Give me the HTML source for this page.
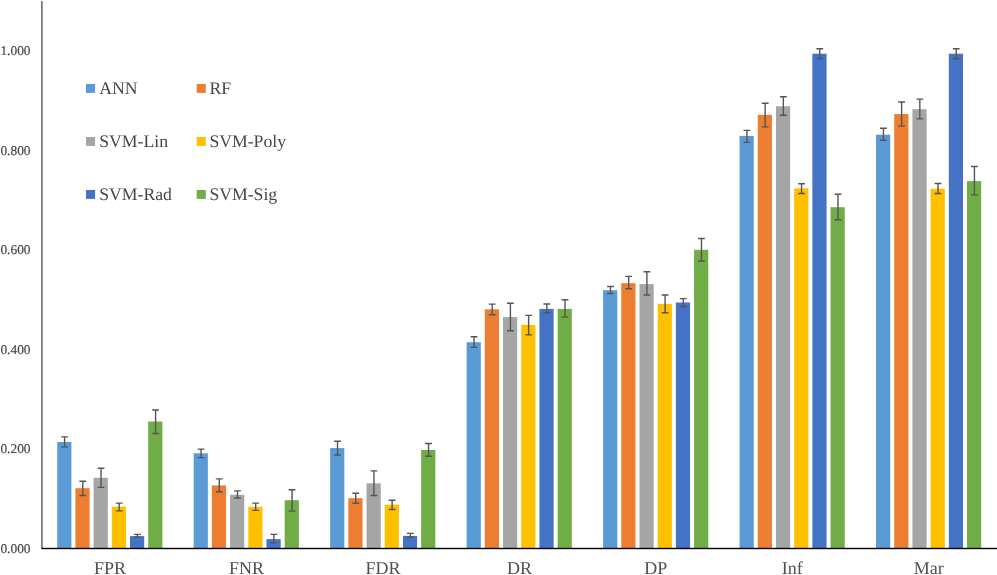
<!DOCTYPE html>
<html lang="en"><head><meta charset="utf-8"><title>Chart</title>
<style>
html,body{margin:0;padding:0;background:#fff;}
body{width:997px;height:575px;overflow:hidden;}
svg{display:block;}
text{text-rendering:geometricPrecision;font-family:"Liberation Serif","Times New Roman",serif;fill:#505050;}
.yl{font-size:13.4px;fill:#484848;stroke:#484848;stroke-width:0.2px;}
.xl{font-size:18px;text-anchor:middle;}
.lg{font-size:17.7px;fill:#464646;}
</style></head><body>
<svg width="997" height="575" viewBox="0 0 997 575">
<rect width="997" height="575" fill="#fff"/>
<rect x="57.20" y="442.00" width="14.20" height="106.20" fill="#5b9bd5"/>
<rect x="75.40" y="488.20" width="14.20" height="60.00" fill="#ed7d31"/>
<rect x="93.60" y="477.80" width="14.20" height="70.40" fill="#a5a5a5"/>
<rect x="111.80" y="506.70" width="14.20" height="41.50" fill="#ffc000"/>
<rect x="130.00" y="536.10" width="14.20" height="12.10" fill="#4472c4"/>
<rect x="148.20" y="421.50" width="14.20" height="126.70" fill="#70ad47"/>
<rect x="193.67" y="453.30" width="14.20" height="94.90" fill="#5b9bd5"/>
<rect x="211.87" y="485.40" width="14.20" height="62.80" fill="#ed7d31"/>
<rect x="230.07" y="494.80" width="14.20" height="53.40" fill="#a5a5a5"/>
<rect x="248.27" y="506.80" width="14.20" height="41.40" fill="#ffc000"/>
<rect x="266.47" y="539.10" width="14.20" height="9.10" fill="#4472c4"/>
<rect x="284.67" y="500.20" width="14.20" height="48.00" fill="#70ad47"/>
<rect x="330.14" y="448.10" width="14.20" height="100.10" fill="#5b9bd5"/>
<rect x="348.34" y="498.20" width="14.20" height="50.00" fill="#ed7d31"/>
<rect x="366.54" y="483.30" width="14.20" height="64.90" fill="#a5a5a5"/>
<rect x="384.74" y="504.60" width="14.20" height="43.60" fill="#ffc000"/>
<rect x="402.94" y="535.90" width="14.20" height="12.30" fill="#4472c4"/>
<rect x="421.14" y="450.00" width="14.20" height="98.20" fill="#70ad47"/>
<rect x="466.61" y="342.20" width="14.20" height="206.00" fill="#5b9bd5"/>
<rect x="484.81" y="309.30" width="14.20" height="238.90" fill="#ed7d31"/>
<rect x="503.01" y="317.10" width="14.20" height="231.10" fill="#a5a5a5"/>
<rect x="521.21" y="324.90" width="14.20" height="223.30" fill="#ffc000"/>
<rect x="539.41" y="308.90" width="14.20" height="239.30" fill="#4472c4"/>
<rect x="557.61" y="308.90" width="14.20" height="239.30" fill="#70ad47"/>
<rect x="603.08" y="290.20" width="14.20" height="258.00" fill="#5b9bd5"/>
<rect x="621.28" y="283.20" width="14.20" height="265.00" fill="#ed7d31"/>
<rect x="639.48" y="284.10" width="14.20" height="264.10" fill="#a5a5a5"/>
<rect x="657.68" y="303.90" width="14.20" height="244.30" fill="#ffc000"/>
<rect x="675.88" y="302.50" width="14.20" height="245.70" fill="#4472c4"/>
<rect x="694.08" y="249.80" width="14.20" height="298.40" fill="#70ad47"/>
<rect x="739.55" y="135.90" width="14.20" height="412.30" fill="#5b9bd5"/>
<rect x="757.75" y="114.80" width="14.20" height="433.40" fill="#ed7d31"/>
<rect x="775.95" y="106.30" width="14.20" height="441.90" fill="#a5a5a5"/>
<rect x="794.15" y="188.40" width="14.20" height="359.80" fill="#ffc000"/>
<rect x="812.35" y="53.70" width="14.20" height="494.50" fill="#4472c4"/>
<rect x="830.55" y="207.20" width="14.20" height="341.00" fill="#70ad47"/>
<rect x="876.02" y="134.70" width="14.20" height="413.50" fill="#5b9bd5"/>
<rect x="894.22" y="114.10" width="14.20" height="434.10" fill="#ed7d31"/>
<rect x="912.42" y="109.20" width="14.20" height="439.00" fill="#a5a5a5"/>
<rect x="930.62" y="188.70" width="14.20" height="359.50" fill="#ffc000"/>
<rect x="948.82" y="53.70" width="14.20" height="494.50" fill="#4472c4"/>
<rect x="967.02" y="181.10" width="14.20" height="367.10" fill="#70ad47"/>
<rect x="41" y="1" width="1.8" height="547.5" fill="#7d7d7d"/>
<rect x="41.5" y="547.8" width="955.5" height="1.4" fill="#000"/>
<path d="M61.20 436.90H68.00M61.20 446.90H68.00M64.60 436.90V446.90" stroke="#555555" stroke-width="1.40" fill="none"/>
<path d="M79.40 481.20H86.20M79.40 495.50H86.20M82.80 481.20V495.50" stroke="#555555" stroke-width="1.40" fill="none"/>
<path d="M97.60 468.30H104.40M97.60 487.40H104.40M101.00 468.30V487.40" stroke="#555555" stroke-width="1.40" fill="none"/>
<path d="M115.80 503.10H122.60M115.80 510.90H122.60M119.20 503.10V510.90" stroke="#555555" stroke-width="1.40" fill="none"/>
<path d="M134.00 534.40H140.80M134.00 537.10H140.80M137.40 534.40V537.10" stroke="#555555" stroke-width="1.40" fill="none"/>
<path d="M152.20 410.00H159.00M152.20 433.50H159.00M155.60 410.00V433.50" stroke="#555555" stroke-width="1.40" fill="none"/>
<path d="M197.67 449.10H204.47M197.67 457.60H204.47M201.07 449.10V457.60" stroke="#555555" stroke-width="1.40" fill="none"/>
<path d="M215.87 478.90H222.67M215.87 491.80H222.67M219.27 478.90V491.80" stroke="#555555" stroke-width="1.40" fill="none"/>
<path d="M234.07 490.90H240.87M234.07 498.00H240.87M237.47 490.90V498.00" stroke="#555555" stroke-width="1.40" fill="none"/>
<path d="M252.27 503.10H259.07M252.27 510.40H259.07M255.67 503.10V510.40" stroke="#555555" stroke-width="1.40" fill="none"/>
<path d="M270.47 534.40H277.27M270.47 542.90H277.27M273.87 534.40V542.90" stroke="#555555" stroke-width="1.40" fill="none"/>
<path d="M288.67 489.70H295.47M288.67 511.10H295.47M292.07 489.70V511.10" stroke="#555555" stroke-width="1.40" fill="none"/>
<path d="M334.14 441.30H340.94M334.14 455.00H340.94M337.54 441.30V455.00" stroke="#555555" stroke-width="1.40" fill="none"/>
<path d="M352.34 493.20H359.14M352.34 503.30H359.14M355.74 493.20V503.30" stroke="#555555" stroke-width="1.40" fill="none"/>
<path d="M370.54 470.90H377.34M370.54 495.50H377.34M373.94 470.90V495.50" stroke="#555555" stroke-width="1.40" fill="none"/>
<path d="M388.74 500.20H395.54M388.74 509.50H395.54M392.14 500.20V509.50" stroke="#555555" stroke-width="1.40" fill="none"/>
<path d="M406.94 533.40H413.74M406.94 537.20H413.74M410.34 533.40V537.20" stroke="#555555" stroke-width="1.40" fill="none"/>
<path d="M425.14 443.50H431.94M425.14 456.30H431.94M428.54 443.50V456.30" stroke="#555555" stroke-width="1.40" fill="none"/>
<path d="M470.61 336.70H477.41M470.61 347.40H477.41M474.01 336.70V347.40" stroke="#555555" stroke-width="1.40" fill="none"/>
<path d="M488.81 304.10H495.61M488.81 314.80H495.61M492.21 304.10V314.80" stroke="#555555" stroke-width="1.40" fill="none"/>
<path d="M507.01 303.30H513.81M507.01 330.70H513.81M510.41 303.30V330.70" stroke="#555555" stroke-width="1.40" fill="none"/>
<path d="M525.21 315.40H532.01M525.21 334.90H532.01M528.61 315.40V334.90" stroke="#555555" stroke-width="1.40" fill="none"/>
<path d="M543.41 304.00H550.21M543.41 312.80H550.21M546.81 304.00V312.80" stroke="#555555" stroke-width="1.40" fill="none"/>
<path d="M561.61 299.80H568.41M561.61 317.10H568.41M565.01 299.80V317.10" stroke="#555555" stroke-width="1.40" fill="none"/>
<path d="M607.08 286.50H613.88M607.08 293.50H613.88M610.48 286.50V293.50" stroke="#555555" stroke-width="1.40" fill="none"/>
<path d="M625.28 276.40H632.08M625.28 288.70H632.08M628.68 276.40V288.70" stroke="#555555" stroke-width="1.40" fill="none"/>
<path d="M643.48 271.70H650.28M643.48 295.00H650.28M646.88 271.70V295.00" stroke="#555555" stroke-width="1.40" fill="none"/>
<path d="M661.68 295.00H668.48M661.68 312.80H668.48M665.08 295.00V312.80" stroke="#555555" stroke-width="1.40" fill="none"/>
<path d="M679.88 298.60H686.68M679.88 306.50H686.68M683.28 298.60V306.50" stroke="#555555" stroke-width="1.40" fill="none"/>
<path d="M698.08 238.50H704.88M698.08 261.00H704.88M701.48 238.50V261.00" stroke="#555555" stroke-width="1.40" fill="none"/>
<path d="M743.55 130.40H750.35M743.55 142.40H750.35M746.95 130.40V142.40" stroke="#555555" stroke-width="1.40" fill="none"/>
<path d="M761.75 103.30H768.55M761.75 126.90H768.55M765.15 103.30V126.90" stroke="#555555" stroke-width="1.40" fill="none"/>
<path d="M779.95 96.80H786.75M779.95 115.20H786.75M783.35 96.80V115.20" stroke="#555555" stroke-width="1.40" fill="none"/>
<path d="M798.15 183.70H804.95M798.15 193.50H804.95M801.55 183.70V193.50" stroke="#555555" stroke-width="1.40" fill="none"/>
<path d="M816.35 48.70H823.15M816.35 58.60H823.15M819.75 48.70V58.60" stroke="#555555" stroke-width="1.40" fill="none"/>
<path d="M834.55 194.30H841.35M834.55 219.70H841.35M837.95 194.30V219.70" stroke="#555555" stroke-width="1.40" fill="none"/>
<path d="M880.02 128.20H886.82M880.02 140.20H886.82M883.42 128.20V140.20" stroke="#555555" stroke-width="1.40" fill="none"/>
<path d="M898.22 102.00H905.02M898.22 126.10H905.02M901.62 102.00V126.10" stroke="#555555" stroke-width="1.40" fill="none"/>
<path d="M916.42 99.10H923.22M916.42 118.90H923.22M919.82 99.10V118.90" stroke="#555555" stroke-width="1.40" fill="none"/>
<path d="M934.62 183.50H941.42M934.62 193.50H941.42M938.02 183.50V193.50" stroke="#555555" stroke-width="1.40" fill="none"/>
<path d="M952.82 48.70H959.62M952.82 58.60H959.62M956.22 48.70V58.60" stroke="#555555" stroke-width="1.40" fill="none"/>
<path d="M971.02 166.50H977.82M971.02 194.90H977.82M974.42 166.50V194.90" stroke="#555555" stroke-width="1.40" fill="none"/>
<text class="yl" x="0.4" y="553.25">0.000</text>
<text class="yl" x="0.4" y="452.88">0.200</text>
<text class="yl" x="0.4" y="353.71">0.400</text>
<text class="yl" x="0.4" y="253.84">0.600</text>
<text class="yl" x="0.4" y="154.92">0.800</text>
<text class="yl" x="0.4" y="54.95">1.000</text>
<text class="xl" x="110.00" y="574">FPR</text>
<text class="xl" x="246.47" y="574">FNR</text>
<text class="xl" x="382.94" y="574">FDR</text>
<text class="xl" x="519.41" y="574">DR</text>
<text class="xl" x="655.88" y="574">DP</text>
<text class="xl" x="792.35" y="574">Inf</text>
<text class="xl" x="928.82" y="574">Mar</text>
<rect x="86.00" y="84.00" width="9.1" height="8.9" fill="#5b9bd5"/>
<text class="lg" x="99.20" y="94.20">ANN</text>
<rect x="196.70" y="84.00" width="9.1" height="8.9" fill="#ed7d31"/>
<text class="lg" x="209.40" y="94.20">RF</text>
<rect x="86.00" y="137.00" width="9.1" height="8.9" fill="#a5a5a5"/>
<text class="lg" x="99.20" y="147.20">SVM-Lin</text>
<rect x="196.70" y="137.00" width="9.1" height="8.9" fill="#ffc000"/>
<text class="lg" x="209.40" y="147.20">SVM-Poly</text>
<rect x="86.00" y="190.00" width="9.1" height="8.9" fill="#4472c4"/>
<text class="lg" x="99.20" y="200.20">SVM-Rad</text>
<rect x="196.70" y="190.00" width="9.1" height="8.9" fill="#70ad47"/>
<text class="lg" x="209.40" y="200.20">SVM-Sig</text>
</svg></body></html>
